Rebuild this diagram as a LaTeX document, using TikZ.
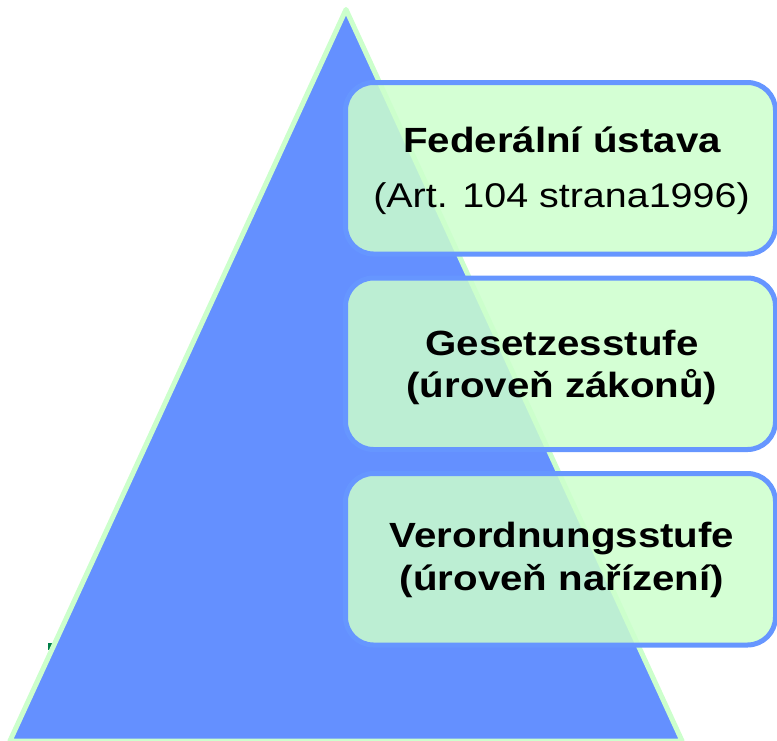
\documentclass[tikz,border=0pt]{standalone}
\usepackage{fontspec}
\setmainfont{Liberation Sans}[FakeStretch=1.15]
\begin{document}
\begin{tikzpicture}[x=1pt,y=-1pt]
\definecolor{triblue}{RGB}{100,144,255}
\definecolor{boxblue}{RGB}{102,150,255}
\definecolor{palegreen}{RGB}{204,255,204}
\definecolor{markgreen}{RGB}{0,128,72}
\tikzset{
  levelbox/.style={draw=boxblue, line width=5pt, fill=palegreen, fill opacity=0.85,
    draw opacity=1, rounded corners=28pt, inner sep=0pt, minimum width=430pt, minimum height=171.5pt},
  titletext/.style={anchor=base, inner sep=0pt, font=\fontsize{35}{42}\selectfont\bfseries},
  subtext/.style={anchor=base, inner sep=0pt, font=\fontsize{34.3}{42}\selectfont},
}
\useasboundingbox (0,0) rectangle (777,740);
\clip (0,0) rectangle (777,740);
% small mark
\fill[markgreen] (48,643) -- (51.5,643) -- (51.5,650) -- (48,650) -- cycle;
% pyramid
\coordinate (apex) at (346,9.5);
\coordinate (bright) at (682.1,741);
\coordinate (bleft) at (9.9,741);
\draw[draw=palegreen, line width=5pt, fill=triblue, line join=round] (apex) -- (bright) -- (bleft) -- cycle;
% boxes
\node[levelbox] (b1) at (560.5,168.25) {};
\node[levelbox] (b2) at (560.5,363.75) {};
\node[levelbox] (b3) at (560.5,559.25) {};
% texts
\node[titletext] (t1) at (562,152) {Federální ústava};
\node[subtext] (s1) at (561.5,207) {(Art. 104 strana1996)};
\node[titletext] (t2) at (562,355) {Gesetzesstufe};
\node[titletext] (s2) at (562,397) {(úroveň zákonů)};
\node[titletext] (t3) at (562,547) {Verordnungsstufe};
\node[titletext] (s3) at (562,590) {(úroveň nařízení)};
\end{tikzpicture}
\end{document}
